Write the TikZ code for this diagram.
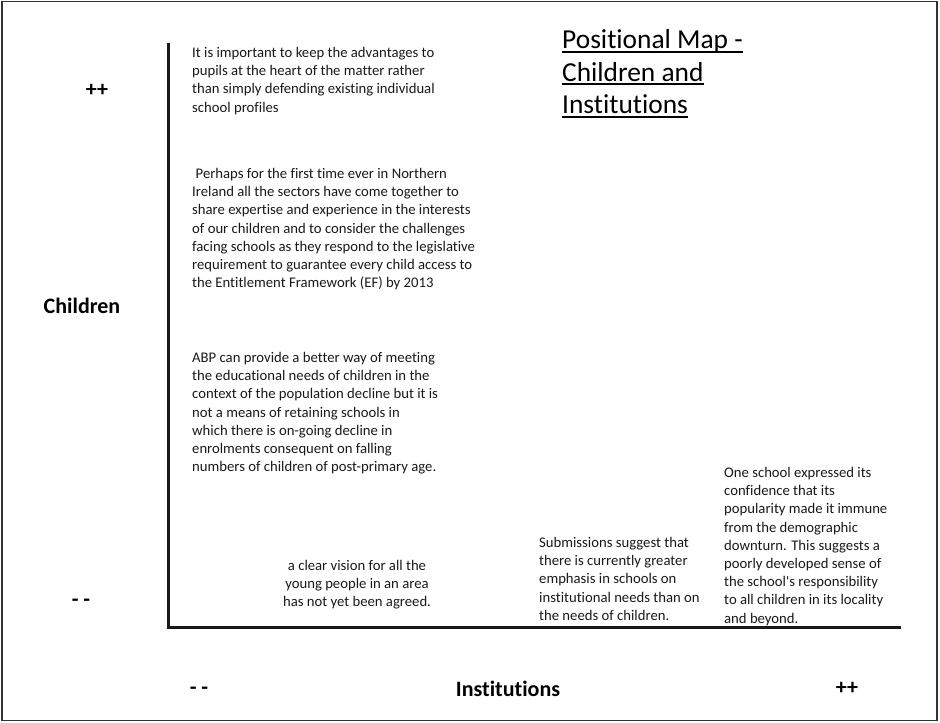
\documentclass[tikz,border=0pt]{standalone}
\usepackage{fontspec}
\setmainfont{Carlito}[Ligatures=NoCommon]
\newsavebox\mapbox
% underline drawn at a fixed depth under the baseline, crossing descenders
\newcommand\mapuline[1]{\sbox\mapbox{#1}\rlap{\rule[-4pt]{\wd\mapbox}{1.8pt}}\usebox\mapbox}
% multi-line nodes are placed by the baseline of their last line
\tikzset{
  quote/.style={anchor=base west, inner sep=0pt, align=left,
    font=\fontsize{14.7}{18.2}\selectfont, text=black!90},
  quotec/.style={quote, anchor=base, align=center},
  axislabel/.style={inner sep=0pt, font=\fontsize{22}{26}\selectfont\bfseries},
  axisline/.style={line width=3pt, black!90},
  frame/.style={line width=1.3pt, black!80},
}
\begin{document}
\begin{tikzpicture}[x=1pt,y=-1pt]
\path[use as bounding box] (0,0) rectangle (940,723);
\draw[frame] (2,1.5) rectangle (937,720.5);

% axes
\coordinate (ytop) at (168,43);
\coordinate (origin) at (168,627);
\coordinate (xend) at (901,627);
\draw[axisline] (ytop) -- (origin) -- (xend);

% axis labels
\node[axislabel] (yhigh) at (97,90) {++};
\node[axislabel, anchor=base] (ylabel) at (82,313.5) {Children};
\node[axislabel, anchor=base] (ylow) at (81,606.5) {- -};
\node[axislabel, anchor=base] (xlow) at (199,694.5) {- -};
\node[axislabel, anchor=base] (xlabel) at (508,696) {Institutions};
\node[axislabel] (xhigh) at (847,688) {++};

% title
\node[anchor=base west, inner sep=0pt, align=left,
      font=\fontsize{27.4}{32.5}\selectfont] (title) at (562,113.5)
  {\mapuline{Positional Map -}\\ \mapuline{Children and}\\ \mapuline{Institutions}};

% statements
\node[quote] (q1) at (192,112.1)
  {It is important to keep the advantages to\\
   pupils at the heart of the matter rather\\
   than simply defending existing individual\\
   school profiles};
\node[quote] (q2) at (192,287.7)
  {\hspace*{3.5pt}Perhaps for the first time ever in Northern\\
   Ireland all the sectors have come together to\\
   share expertise and experience in the interests\\
   of our children and to consider the challenges\\
   facing schools as they respond to the legislative\\
   requirement to guarantee every child access to\\
   the Entitlement Framework (EF) by 2013};
\node[quote] (q3) at (192,471.7)
  {ABP can provide a better way of meeting\\
   the educational needs of children in the\\
   context of the population decline but it is\\
   not a means of retaining schools in\\
   which there is on-going decline in\\
   enrolments consequent on falling\\
   numbers of children of post-primary age.};
\node[quotec] (q4) at (357,606.9)
  {a clear vision for all the\\
   young people in an area\\
   has not yet been agreed.};
\node[quote] (q5) at (539,620.3)
  {Submissions suggest that\\
   there is currently greater\\
   emphasis in schools on\\
   institutional needs than on\\
   the needs of children.};
\node[quote] (q6) at (724,623.1)
  {One school expressed its\\
   confidence that its\\
   popularity made it immune\\
   from the demographic\\
   downturn. This suggests a\\
   poorly developed sense of\\
   the school\textquotesingle s responsibility\\
   to all children in its locality\\
   and beyond.};
\end{tikzpicture}
\end{document}
